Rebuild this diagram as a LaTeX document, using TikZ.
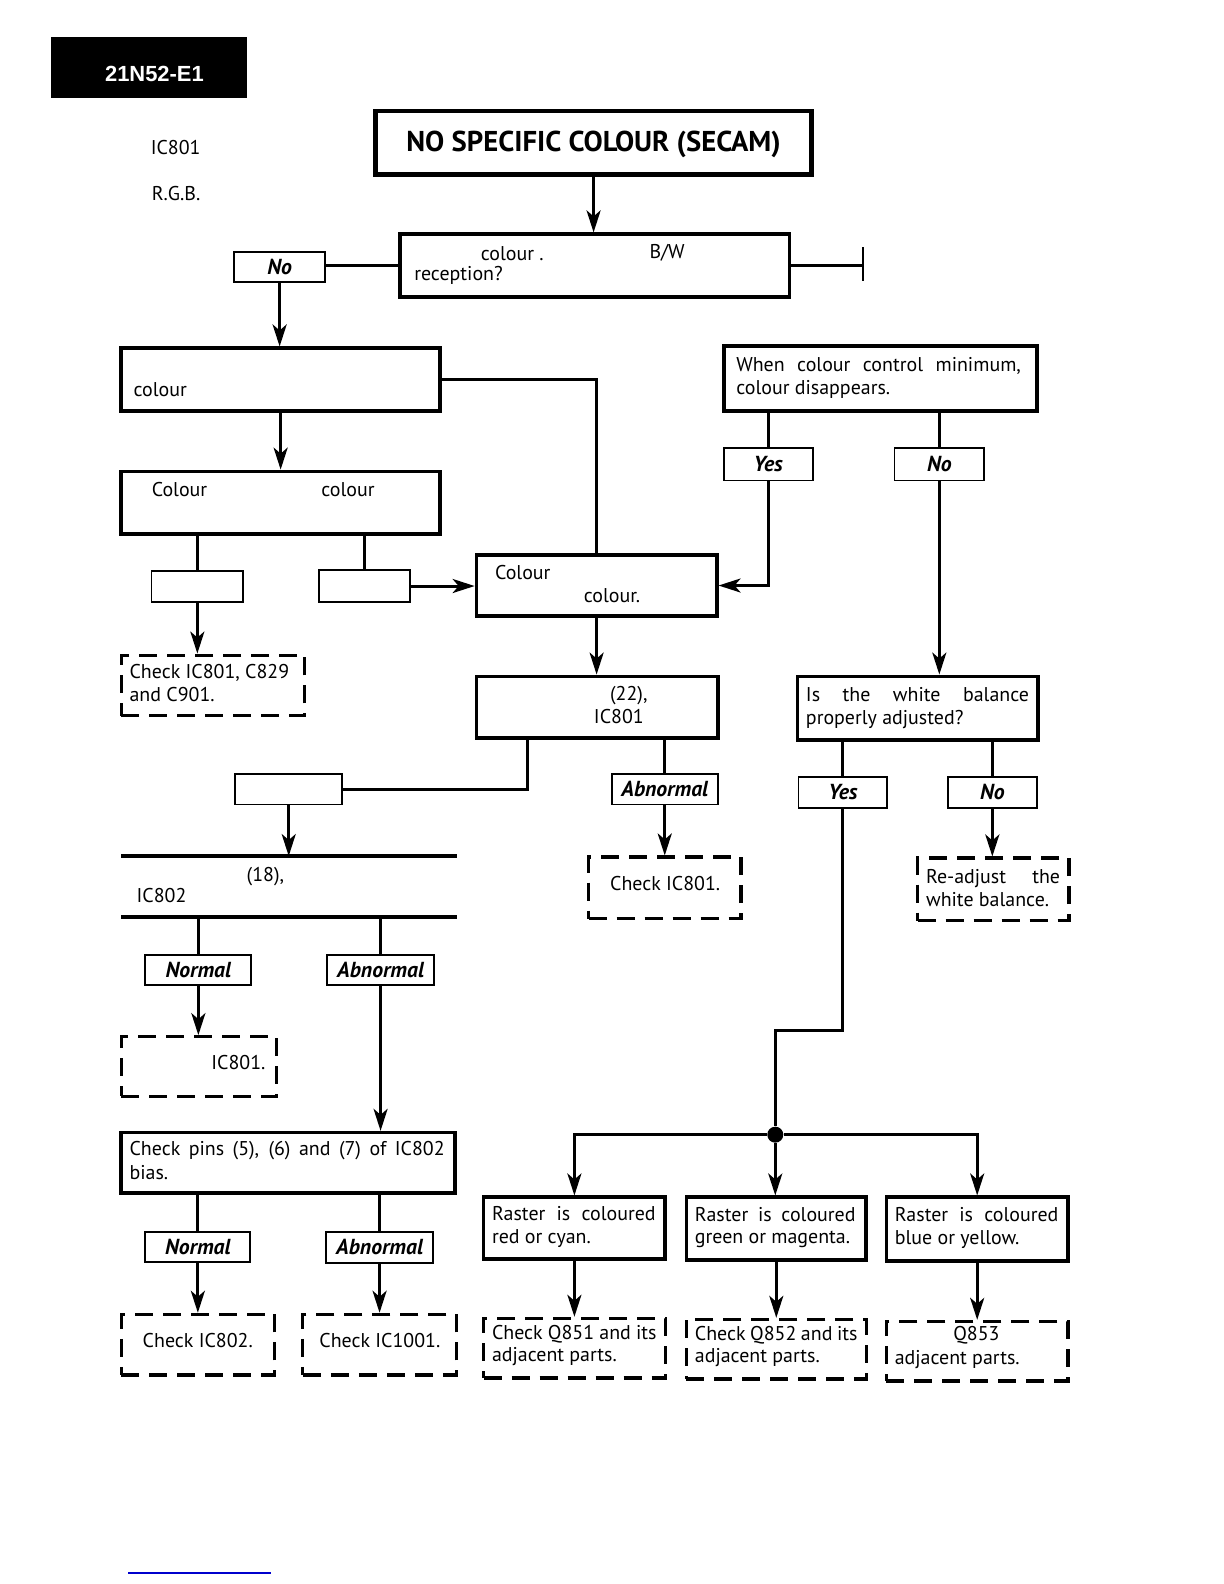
\documentclass[tikz,border=0pt]{standalone}
\usepackage{fontspec}
\setmainfont{PT Sans}
\newfontfamily\hdrfont{Liberation Sans}
\usetikzlibrary{arrows.meta,calc}
\tikzset{
 bx/.style 2 args={draw, line width=1.8bp, minimum width={(#1)*1.0095}, minimum height={(#2)*1.0095}, inner sep=0pt},
 lb/.style 2 args={draw, line width=0.9bp, minimum width={(#1)*1.0095}, minimum height={(#2)*1.0095}, inner sep=0pt, font=\fontsize{10.9}{12}\selectfont\bfseries\itshape},
 db/.style 2 args={draw, line width=1.6bp, dash pattern=on 9bp off 5bp, minimum width={(#1)*1.0095}, minimum height={(#2)*1.0095}, inner sep=0pt},
 tx/.style={inner sep=0pt, anchor=base west, font=\fontsize{10}{11}\selectfont},
 ln/.style={line width=1.5bp},
 arr/.style={line width=1.5bp, -{Stealth[length=11bp,width=7bp,inset=3bp]}},
}
\newcommand{\jl}[2]{\makebox[#1][s]{#2}}
\begin{document}
\begin{tikzpicture}[x=0.50475bp,y=-0.50475bp]
\useasboundingbox (0,0) rectangle (1212.5,1569.1);
% header
\node[fill=black, minimum width=98bp, minimum height=30.3bp, inner sep=0pt] (hdr) at (148,67) {};
\node[inner sep=0pt, text=white, font=\hdrfont\bfseries\fontsize{11}{13}\selectfont] (hdrt) at (153,73) {21N52-E1};
\node[tx] (ic) at (149,153) {IC801};
\node[tx] (rgb) at (150,199) {R.G.B.};
% title
\node[bx={216bp}{31.5bp}, line width=2.4bp] (title) at (588,141.5) {};
\node[inner sep=0pt, font=\fontsize{14.4}{16}\selectfont\bfseries] (titlet) at (588,143) {NO SPECIFIC COLOUR (SECAM)};
% box 2
\node[bx={193bp}{31bp}] (b2) at (589,263) {};
\node[tx] (b2a) at (476,258) {colour .};
\node[tx] (b2b) at (643,256) {B/W};
\node[tx] (b2c) at (410,278) {reception?};
\node[lb={45bp}{14.5bp}] (no1) at (277,264.5) {No};
\coordinate (bar1) at (855,245);
\coordinate (bar2) at (855,278);
% box 3
\node[bx={158bp}{31bp}] (b3) at (278,376) {};
\node[tx] (b3a) at (132,393) {colour};
% box 4
\node[bx={158bp}{31bp}] (b4) at (278,498) {};
\node[tx] (b4a) at (150,492) {Colour};
\node[tx] (b4b) at (318,492) {colour};
\node[lb={45.5bp}{15bp}] (sA) at (195.5,581) {};
\node[lb={45bp}{15.5bp}] (sB) at (361,580.5) {};
\node[db={91bp}{30bp}] (dA) at (211,679) {};
\node[tx] (dA1) at (128,672) {Check IC801, C829};
\node[tx] (dA2) at (128,695) {and C901.};
% box 5
\node[bx={119bp}{30bp}] (b5) at (591,580) {};
\node[tx] (b5a) at (490,574) {Colour};
\node[tx] (b5b) at (578,597) {colour.};
% box 6
\node[bx={119.5bp}{30.5bp}] (b6) at (591.5,700.5) {};
\node[tx] (b6a) at (604,694) {(22),};
\node[tx] (b6b) at (588,717) {IC801};
\node[lb={53bp}{15bp}] (sC) at (286,782) {};
\node[lb={52.5bp}{15bp}] (ab1) at (658.5,782) {Abnormal};
\node[db={75.5bp}{30.5bp}] (dB) at (658.5,879.5) {};
\node[tx] (dBt) at (604,882) {Check IC801.};
% IC802 lines
\coordinate (l1w) at (120,848);
\coordinate (l1e) at (453,848);
\coordinate (l2w) at (120,908);
\coordinate (l2e) at (453,908);
\node[tx] (l1t) at (244,873) {(18),};
\node[tx] (l2t) at (135,894) {IC802};
\node[lb={52.5bp}{15bp}] (n2) at (196.5,961) {Normal};
\node[lb={53bp}{15bp}] (ab2) at (377,961) {Abnormal};
\node[db={77bp}{29.5bp}] (dC) at (197,1056.5) {};
\node[tx] (dCt) at (209,1059) {IC801.};
\node[bx={165.5bp}{30bp}] (b7) at (285.5,1152) {};
\node[tx] (b7a) at (128,1145) {\jl{157.5bp}{Check pins (5), (6) and (7) of IC802}};
\node[tx] (b7b) at (128,1168) {bias.};
\node[lb={52bp}{15bp}] (n3) at (196,1235) {Normal};
\node[lb={53bp}{15.5bp}] (ab3) at (376,1235.5) {Abnormal};
\node[db={76bp}{30bp}] (dD) at (196,1332) {};
\node[tx] (dDt) at (141,1335) {Check IC802.};
\node[db={76bp}{30bp}] (dE) at (376,1332) {};
\node[tx] (dEt) at (316,1335) {Check IC1001.};
% right column
\node[bx={155bp}{32bp}] (wc) at (872,375) {};
\node[tx] (wc1) at (729,368) {\jl{142.3bp}{When colour control minimum,}};
\node[tx] (wc2) at (729,391) {colour disappears.};
\node[lb={44bp}{16bp}] (yes1) at (761,460) {Yes};
\node[lb={44.5bp}{16bp}] (no2) at (930.5,460) {No};
\node[bx={119bp}{31.5bp}] (wb) at (909,701.5) {};
\node[tx] (wb1) at (798,695) {\jl{111.5bp}{Is the white balance}};
\node[tx] (wb2) at (798,718) {properly adjusted?};
\node[lb={44bp}{15bp}] (yes2) at (835,785) {Yes};
\node[lb={44bp}{15bp}] (no3) at (983,785) {No};
\node[db={75bp}{31bp}] (dF) at (984,881) {};
\node[tx] (dF1) at (917,875) {\jl{67bp}{Re-adjust the}};
\node[tx] (dF2) at (917,898) {white balance.};
\coordinate (k1) at (768,1021);
\node[circle, fill=black, inner sep=0pt, minimum size=8bp] (junc) at (768,1124) {};
\node[bx={90bp}{30.5bp}] (R1) at (569,1216.5) {};
\node[tx] (R1a) at (487,1209) {\jl{81.8bp}{Raster is coloured}};
\node[tx] (R1b) at (487,1232) {red or cyan.};
\node[bx={89bp}{31bp}] (R2) at (769,1217) {};
\node[tx] (R2a) at (688,1210) {\jl{80.3bp}{Raster is coloured}};
\node[tx] (R2b) at (688,1232) {green or magenta.};
\node[bx={90bp}{31.5bp}] (R3) at (968,1217.5) {};
\node[tx] (R3a) at (886,1210) {\jl{81.8bp}{Raster is coloured}};
\node[tx] (R3b) at (886,1233) {blue or yellow.};
\node[db={90bp}{29.5bp}] (D1) at (569,1335.5) {};
\node[tx] (D1a) at (487,1327) {\jl{82.3bp}{Check Q851 and its}};
\node[tx] (D1b) at (487,1349) {adjacent parts.};
\node[db={89bp}{29.5bp}] (D2) at (769,1336.5) {};
\node[tx] (D2a) at (688,1328) {\jl{81.3bp}{Check Q852 and its}};
\node[tx] (D2b) at (688,1350) {adjacent parts.};
\node[db={90bp}{29.5bp}] (D3) at (968,1338.5) {};
\node[tx] (D3a) at (944,1328) {Q853};
\node[tx] (D3b) at (886,1352) {adjacent parts.};
\coordinate (bl1) at (127,1558);
\coordinate (bl2) at (268,1558);
% connectors
\draw[arr] (title.south) -- (title.south |- b2.north);
\draw[ln] (b2.west) -- (b2.west -| no1.east);
\draw[ln] (b2.east) -- (bar1 |- b2.east);
\draw[line width=1bp] (bar1) -- (bar2);
\draw[arr] (no1.south) -- (no1.south |- b3.north);
\draw[ln] (b3.east) -| (b5.north);
\draw[arr] (b3.south) -- (b4.north);
\draw[ln] (sA.north |- b4.south) -- (sA.north);
\draw[ln] (sB.north |- b4.south) -- (sB.north);
\draw[arr] (sA.south) -- (sA.south |- dA.north);
\draw[arr] (sB.east) -- (sB.east -| b5.west);
\draw[ln] (yes1.north |- wc.south) -- (yes1.north);
\draw[arr] (yes1.south) |- (b5.east);
\draw[ln] (no2.north |- wc.south) -- (no2.north);
\draw[arr] (no2.south) -- (no2.south |- wb.north);
\draw[arr] (b5.south) -- (b5.south |- b6.north);
\draw[ln] ($(b6.south west)+(52,0)$) |- (sC.east);
\draw[ln] (ab1.north |- b6.south) -- (ab1.north);
\draw[arr] (ab1.south) -- (ab1.south |- dB.north);
\draw[arr] (sC.south) -- (sC.south |- l1w);
\draw[line width=2bp] (l1w) -- (l1e);
\draw[line width=2bp] (l2w) -- (l2e);
\draw[ln] (n2.north |- l2w) -- (n2.north);
\draw[ln] (ab2.north |- l2w) -- (ab2.north);
\draw[arr] (n2.south) -- (n2.south |- dC.north);
\draw[arr] (ab2.south) -- (ab2.south |- b7.north);
\draw[ln] (n3.north |- b7.south) -- (n3.north);
\draw[ln] (ab3.north |- b7.south) -- (ab3.north);
\draw[arr] (n3.south) -- (n3.south |- dD.north);
\draw[arr] (ab3.south) -- (ab3.south |- dE.north);
\draw[ln] (yes2.north |- wb.south) -- (yes2.north);
\draw[ln] (no3.north |- wb.south) -- (no3.north);
\draw[arr] (no3.south) -- (no3.south |- dF.north);
\draw[ln] (yes2.south) -- (yes2.south |- k1) -- (k1) -- (junc);
\draw[arr] (junc) -| (R1.north);
\draw[arr] (junc) -- (junc |- R2.north);
\draw[arr] (junc) -| (R3.north);
\draw[arr] (R1.south) -- (R1.south |- D1.north);
\draw[arr] (R2.south) -- (R2.south |- D2.north);
\draw[arr] (R3.south) -- (R3.south |- D3.north);
\draw[line width=1bp, color={rgb,255:red,0;green,0;blue,205}] (bl1) -- (bl2);
\end{tikzpicture}
\end{document}
